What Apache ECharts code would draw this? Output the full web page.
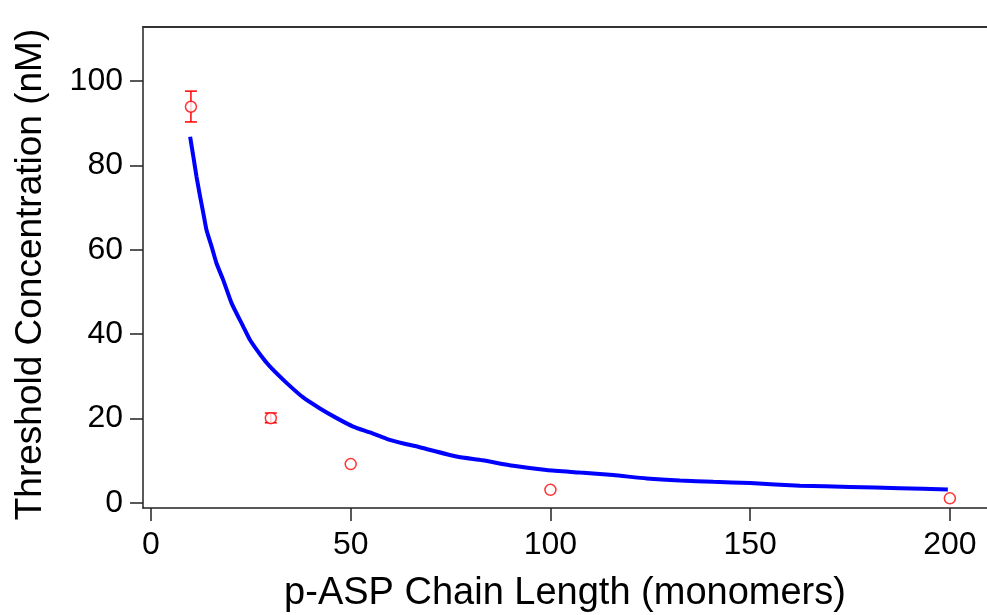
<!DOCTYPE html>
<html>
<head>
<meta charset="utf-8">
<script src="https://cdn.jsdelivr.net/npm/echarts@6/dist/echarts.min.js"></script>
<style>
  html, body { margin: 0; padding: 0; background: #fff; }
  #chart { width: 987px; height: 615px; }
</style>
</head>
<body>
<div id="chart"></div>
<script>
// Measured threshold concentrations per chain length
var chainLength = [10, 30, 50, 100, 200];
var threshold = [93.9, 20.1, 9.2, 3.1, 1.1];
var errLow = [90.3, 19.0, null, null, null];
var errHigh = [97.6, 21.3, null, null, null];

// Fitted curve (chain length, concentration)
var fitX = [9.8, 10.6, 11.4, 12.3, 13.1, 13.9, 15.2, 16.4, 18.1, 20.2, 23.1, 24.8, 27.7, 29.8, 34.0, 38.1, 42.3, 46.5, 50.6, 54.8, 59.0, 63.2, 67.3, 76.5, 83.0, 90.7, 99, 107.4, 115.7, 124.1, 132.4, 140.8, 150, 162.5, 175, 187.5, 199.5];
var fitY = [86.8, 82.1, 77.3, 72.6, 68.7, 64.7, 60.7, 56.8, 52.8, 47.3, 41.8, 38.6, 34.7, 32.3, 28.4, 25.0, 22.4, 20.1, 18.1, 16.7, 15.2, 14.1, 13.2, 11.0, 10.1, 8.8, 7.8, 7.2, 6.6, 5.8, 5.3, 5.0, 4.7, 4.1, 3.8, 3.5, 3.2];

// Tick labels
var xTicks = [0, 50, 100, 150, 200];
var yTicks = [0, 20, 40, 60, 80, 100];

var FONT = '"Liberation Sans", Arial, sans-serif';

var fitData = fitX.map(function (x, i) { return [x, fitY[i]]; });
var pointData = chainLength.map(function (x, i) { return [x, threshold[i]]; });
var errData = [];
chainLength.forEach(function (x, i) {
  if (errLow[i] != null) errData.push([x, errLow[i], errHigh[i]]);
});

var chart = echarts.init(document.getElementById('chart'), null, { renderer: 'canvas' });

chart.setOption({
  animation: false,
  backgroundColor: '#ffffff',
  grid: { left: 143, top: 27, right: 0, bottom: 107, containLabel: false, outerBoundsMode: 'none' },
  xAxis: [{
    type: 'value',
    min: -2,
    max: 209.3,
    name: 'p-ASP Chain Length (monomers)',
    nameLocation: 'middle',
    nameGap: 67,
    nameTextStyle: { fontFamily: FONT, fontSize: 38, color: '#000' },
    axisLine: { show: true, onZero: false, lineStyle: { color: '#222', width: 1.5 } },
    axisTick: { show: true, customValues: xTicks, length: 13, inside: false, lineStyle: { color: '#222', width: 1.5 } },
    axisLabel: { customValues: xTicks, fontFamily: FONT, fontSize: 32, color: '#000', margin: 21 },
    splitLine: { show: false }
  }, {
    // top frame line
    type: 'value',
    position: 'top',
    min: -2,
    max: 209.3,
    axisLine: { show: true, onZero: false, lineStyle: { color: '#333', width: 2 } },
    axisTick: { show: false },
    axisLabel: { show: false },
    splitLine: { show: false }
  }],
  yAxis: {
    type: 'value',
    min: -1.2,
    max: 112.8,
    name: 'Threshold Concentration (nM)',
    nameLocation: 'middle',
    nameGap: 94,
    nameRotate: 90,
    nameTextStyle: { fontFamily: FONT, fontSize: 37, color: '#000', padding: [0, 14, 0, 0] },
    axisLine: { show: true, onZero: false, lineStyle: { color: '#222', width: 1.5 } },
    axisTick: { show: true, customValues: yTicks, length: 13, inside: false, lineStyle: { color: '#222', width: 1.5 } },
    axisLabel: { customValues: yTicks, fontFamily: FONT, fontSize: 32, color: '#000', margin: 20 },
    splitLine: { show: false }
  },
  series: [{
    type: 'line',
    name: 'fit',
    data: fitData,
    showSymbol: false,
    smooth: 0.2,
    lineStyle: { color: '#0000ff', width: 4 },
    z: 2
  }, {
    type: 'custom',
    name: 'error',
    data: errData,
    renderItem: function (params, api) {
      var x = api.value(0);
      var lo = api.coord([x, api.value(1)]);
      var hi = api.coord([x, api.value(2)]);
      var half = 6;
      var style = { stroke: '#ff0000', lineWidth: 1.5 };
      return {
        type: 'group',
        children: [
          { type: 'line', shape: { x1: lo[0], y1: lo[1], x2: hi[0], y2: hi[1] }, style: style },
          { type: 'line', shape: { x1: lo[0] - half, y1: lo[1], x2: lo[0] + half, y2: lo[1] }, style: style },
          { type: 'line', shape: { x1: hi[0] - half, y1: hi[1], x2: hi[0] + half, y2: hi[1] }, style: style }
        ]
      };
    },
    z: 3
  }, {
    type: 'scatter',
    name: 'measured',
    data: pointData,
    symbol: 'circle',
    symbolSize: 11,
    itemStyle: { color: '#ffffff', borderColor: '#ff0000', borderWidth: 1.5 },
    z: 4
  }]
});
</script>
</body>
</html>
